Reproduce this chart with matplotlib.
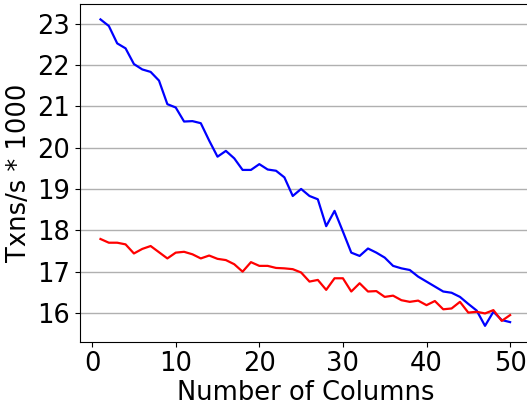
import matplotlib
matplotlib.use("Agg")
import matplotlib.pyplot as plt
import numpy as np

# columns 1..50
columns = np.arange(1, 51)

blue_txns = [
    23.10, 22.94, 22.52, 22.40, 22.02, 21.89, 21.83, 21.62, 21.05, 20.97,
    20.63, 20.64, 20.59, 20.17, 19.78, 19.92, 19.74, 19.46, 19.46, 19.60,
    19.47, 19.44, 19.28, 18.83, 19.00, 18.83, 18.75, 18.10, 18.47, 17.97,
    17.46, 17.38, 17.56, 17.46, 17.34, 17.14, 17.08, 17.04, 16.88, 16.76,
    16.64, 16.52, 16.49, 16.39, 16.22, 16.06, 15.69, 16.03, 15.83, 15.78,
]

red_txns = [
    17.79, 17.70, 17.70, 17.66, 17.44, 17.55, 17.62, 17.47, 17.32, 17.46,
    17.48, 17.42, 17.32, 17.39, 17.31, 17.28, 17.18, 17.00, 17.23, 17.14,
    17.14, 17.09, 17.08, 17.06, 16.98, 16.76, 16.80, 16.56, 16.84, 16.84,
    16.52, 16.72, 16.52, 16.53, 16.39, 16.42, 16.31, 16.27, 16.30, 16.19,
    16.29, 16.09, 16.11, 16.27, 16.01, 16.03, 15.99, 16.07, 15.81, 15.95,
]

FS = 18.5

fig = plt.figure(figsize=(5.27, 4.09), dpi=100)
# axes run past the right edge, like the cropped reference
ax = fig.add_axes([0.1518, 0.1645, 0.855, 0.8245])

ax.plot(columns, blue_txns, color="blue", lw=1.6, zorder=3)
ax.plot(columns, red_txns, color="red", lw=1.6, zorder=3)

ax.set_xlim(-1.45, 52.45)
ax.set_ylim(15.306, 23.46)
ax.set_xticks([0, 10, 20, 30, 40, 50])
ax.set_yticks([16, 17, 18, 19, 20, 21, 22, 23])
ax.yaxis.grid(True, color="#b0b0b0", lw=1.0, zorder=1)
ax.set_axisbelow(True)
ax.tick_params(labelsize=FS)
ax.set_xlabel("Number of Columns", fontsize=FS, labelpad=2)
ax.set_ylabel("Txns/s * 1000", fontsize=FS, labelpad=4)

fig.savefig("out.png", dpi=100)
